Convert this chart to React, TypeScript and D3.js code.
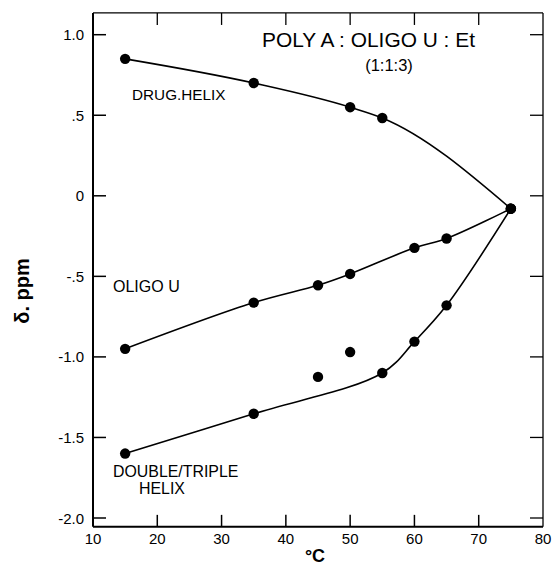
import React from 'react'
import * as d3 from 'd3'

const W = 554
const H = 568

// temperature (°C) and chemical shift (ppm)
const drugT = [15, 35, 50, 55, 75]
const drugD = [0.85, 0.70, 0.55, 0.483, -0.08]

const oligoT = [15, 35, 45, 50, 60, 65, 75]
const oligoD = [-0.95, -0.663, -0.555, -0.485, -0.323, -0.265, -0.08]

const doubleT = [15, 35, 55, 60, 65, 75]
const doubleD = [-1.60, -1.353, -1.10, -0.905, -0.68, -0.08]

// two points off the curves
const strayT = [45, 50]
const strayD = [-1.124, -0.97]

const xTicks = [10, 20, 30, 40, 50, 60, 70, 80]
const yTicks = [1.0, 0.5, 0, -0.5, -1.0, -1.5, -2.0]
const yTickLabels = ['1.0', '.5', '0', '-.5', '-1.0', '-1.5', '-2.0']
const frameY = [-2.055, 1.135]

const x = d3.scaleLinear().domain([10, 80]).range([93, 543])
const y = d3.scaleLinear().domain([-2, 1]).range([518, 34.7])

const font = '"Liberation Sans", Arial, sans-serif'

const zip = (ts: number[], ds: number[]) => ts.map((t, i) => [t, ds[i]] as [number, number])

const makeLine = (curve: d3.CurveFactory) => d3.line<[number, number]>()
  .x(d => x(d[0]))
  .y(d => y(d[1]))
  .curve(curve)

const smooth = makeLine(d3.curveCatmullRom.alpha(0.5))
const monotone = makeLine(d3.curveMonotoneX)

const series = [zip(drugT, drugD), zip(oligoT, oligoD), zip(doubleT, doubleD)]
const allPoints = [...series.flat(), ...zip(strayT, strayD)]

export default function App() {
  const top = y(frameY[1])
  const bottom = y(frameY[0])
  const left = x(10)
  const right = x(80)
  return (
    <svg width={W} height={H} style={{ position: 'absolute', left: 0, top: 0 }}>
      <rect width={W} height={H} fill="#fff" />
      {/* frame */}
      <g stroke="#000" fill="none">
        <line x1={left} x2={left} y1={top} y2={bottom} strokeWidth={2} />
        <line x1={left} x2={right} y1={bottom} y2={bottom} strokeWidth={2} />
        <line x1={left} x2={right} y1={top} y2={top} strokeWidth={1.3} />
        <line x1={right} x2={right} y1={top} y2={bottom} strokeWidth={1.3} />
        {xTicks.slice(1, -1).map(t => (
          <g key={t}>
            <line x1={x(t)} x2={x(t)} y1={bottom} y2={bottom - 12} strokeWidth={1.5} />
            <line x1={x(t)} x2={x(t)} y1={top} y2={top + 12} strokeWidth={1.3} />
          </g>
        ))}
        {yTicks.map(t => (
          <g key={t}>
            <line x1={left} x2={left + 13} y1={y(t)} y2={y(t)} strokeWidth={1.5} />
            <line x1={right} x2={right - 13} y1={y(t)} y2={y(t)} strokeWidth={1.3} />
          </g>
        ))}
      </g>
      {/* tick labels */}
      <g fontFamily={font} fontSize={15} fill="#000">
        {xTicks.map(t => (
          <text key={t} x={x(t)} y={544} textAnchor="middle">{t}</text>
        ))}
        {yTicks.map((t, i) => (
          <text key={t} x={84} y={y(t) + 5.5} textAnchor="end">{yTickLabels[i]}</text>
        ))}
      </g>
      {/* axis titles */}
      <text x={315} y={562} textAnchor="middle" fontFamily={font} fontSize={18} fontWeight="bold">°C</text>
      <text transform="translate(29,291) rotate(-90)" textAnchor="middle" fontFamily={font} fontSize={20} fontWeight="bold">δ.  ppm</text>
      {/* curves */}
      {series.map((s, i) => (
        <path key={i} d={(i === 0 ? monotone(s) : smooth(s)) ?? ''} fill="none" stroke="#000" strokeWidth={1.6} />
      ))}
      {allPoints.map((p, i) => (
        <circle key={i} cx={x(p[0])} cy={y(p[1])} r={5.2} fill="#000" />
      ))}
      {/* annotations */}
      <g fontFamily={font} fill="#000">
        <text x={262} y={47} fontSize={20.8} textLength={213} lengthAdjust="spacingAndGlyphs">POLY A : OLIGO U : Et</text>
        <text x={389} y={71} fontSize={16.5} textAnchor="middle">(1:1:3)</text>
        <text x={132} y={100} fontSize={15.3}>DRUG.HELIX</text>
        <text x={113} y={292} fontSize={16}>OLIGO U</text>
        <text x={113} y={477} fontSize={15.9}>DOUBLE/TRIPLE</text>
        <text x={139} y={494} fontSize={15.9}>HELIX</text>
      </g>
    </svg>
  )
}
